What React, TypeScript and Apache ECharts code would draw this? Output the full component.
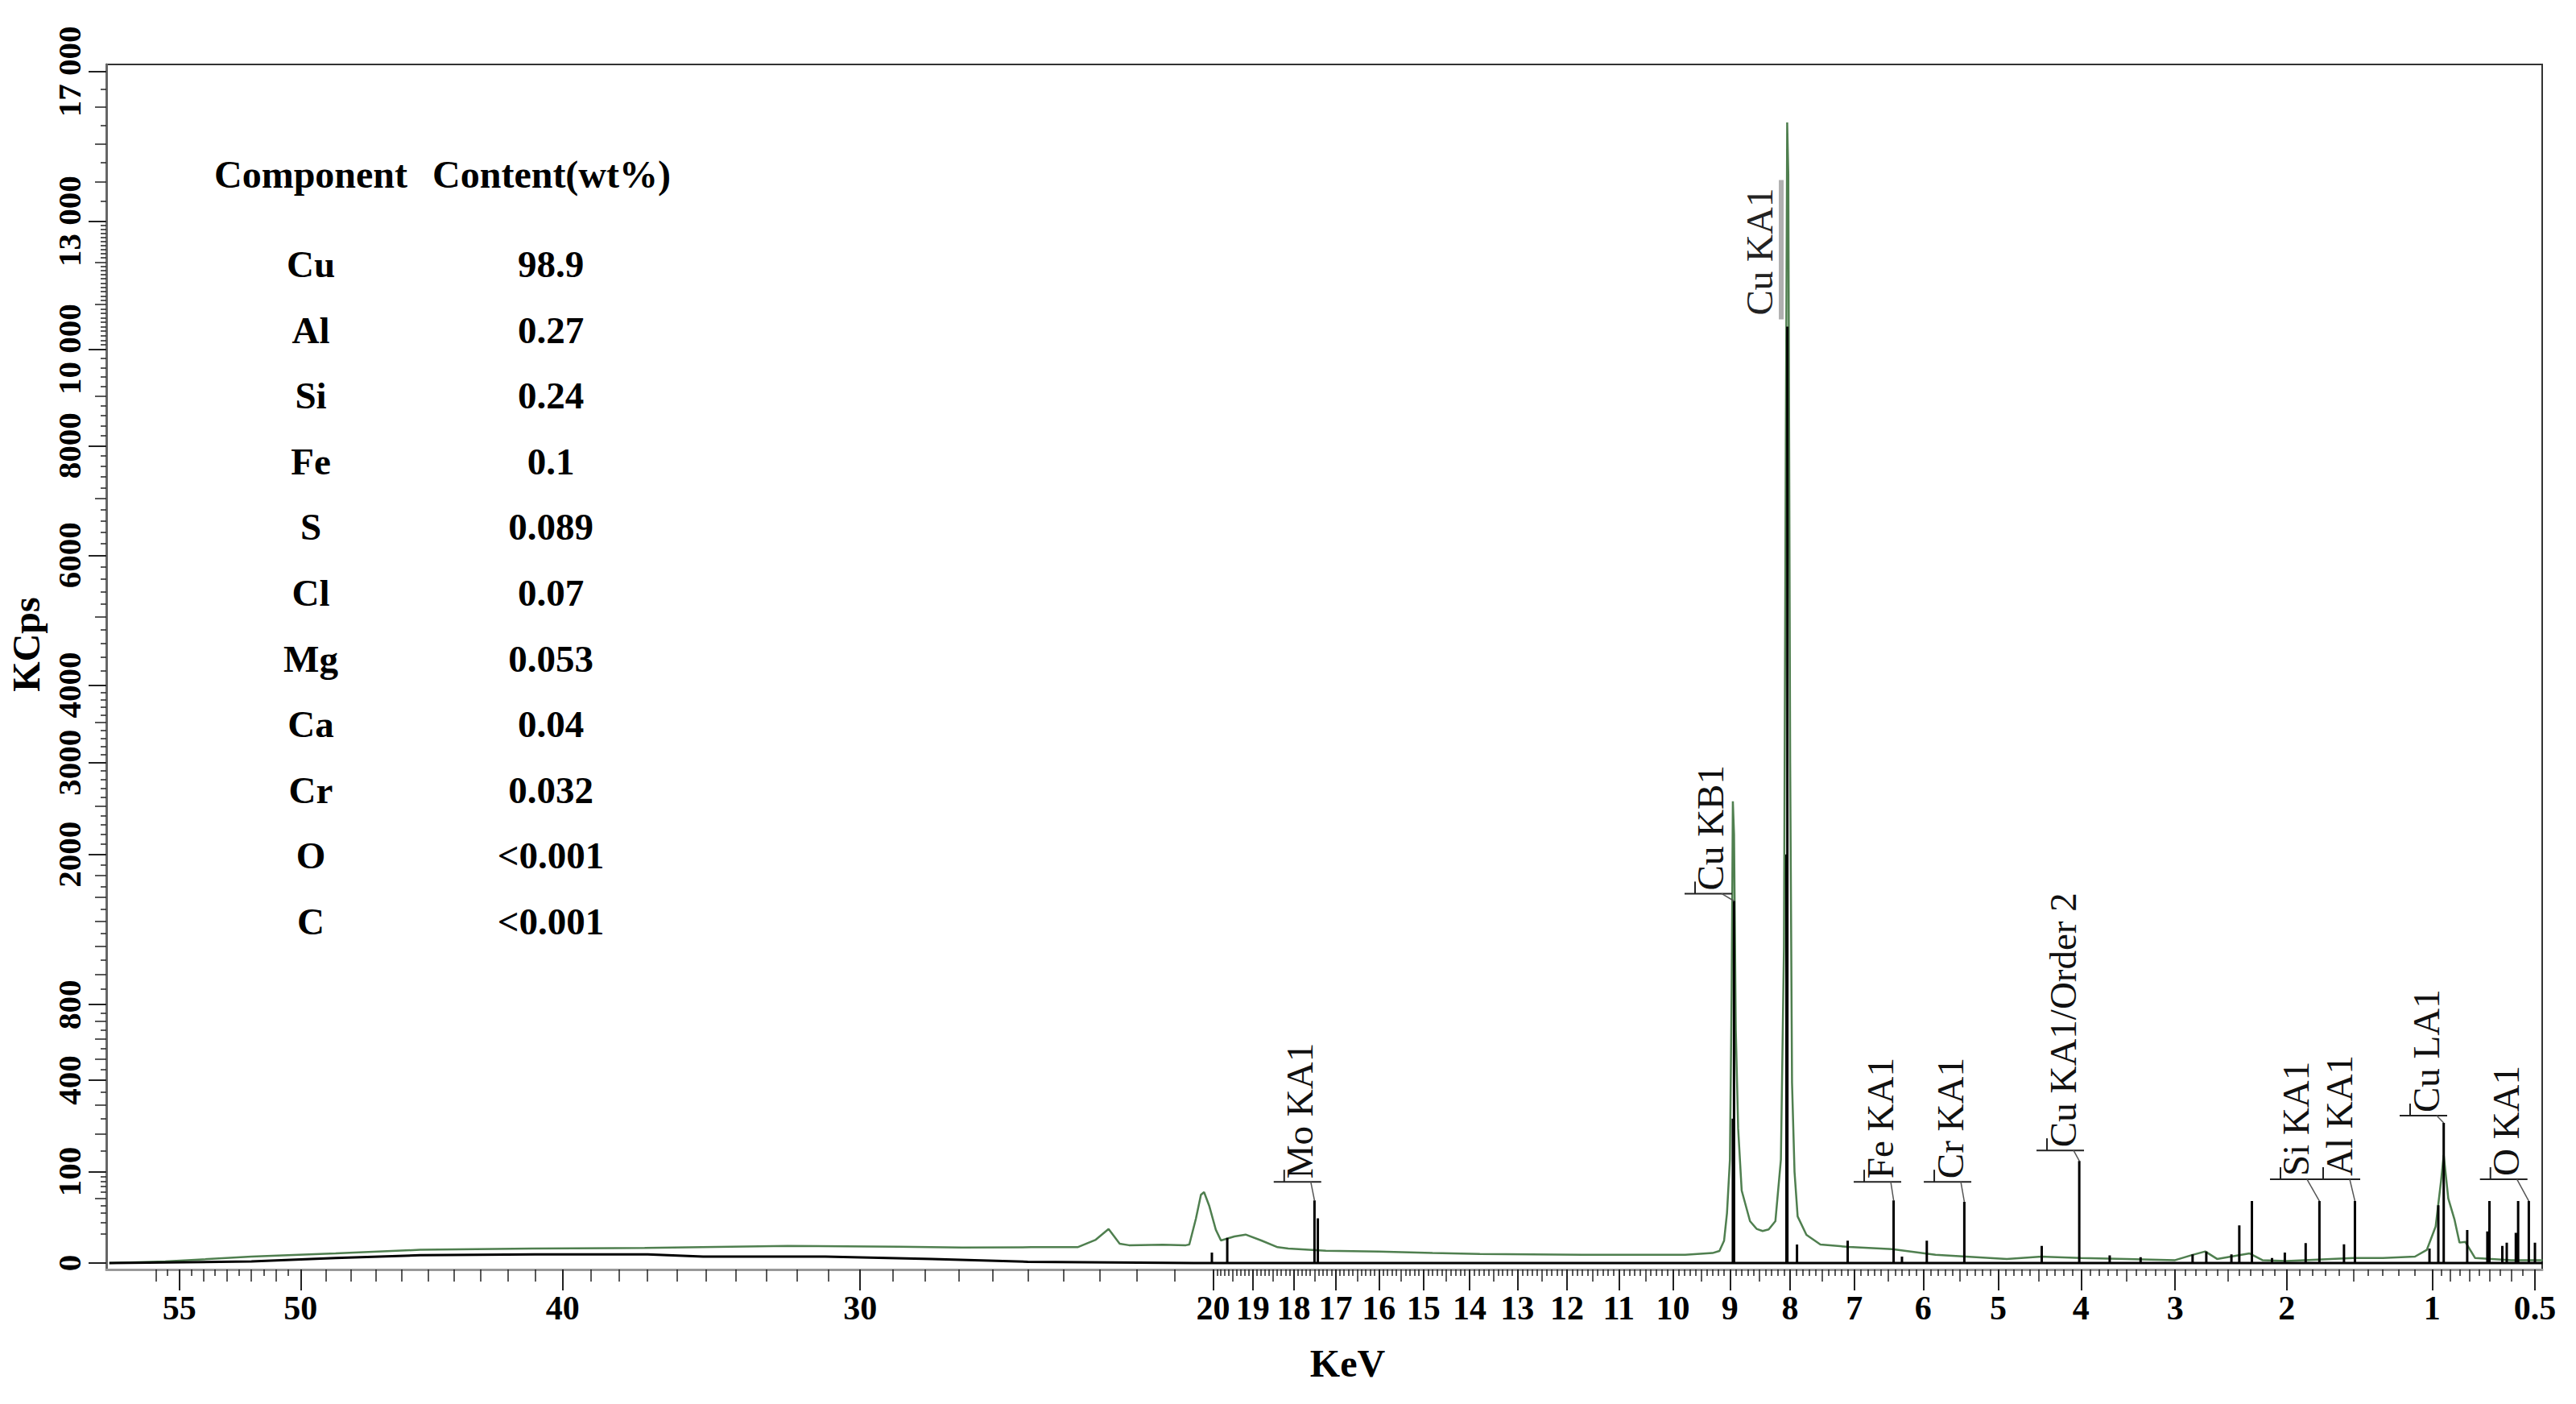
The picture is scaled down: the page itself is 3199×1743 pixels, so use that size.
import React, { useEffect, useRef } from 'react';
import * as echarts from 'echarts';

// ---------- table ----------
const components = ['Cu', 'Al', 'Si', 'Fe', 'S', 'Cl', 'Mg', 'Ca', 'Cr', 'O', 'C'];
const contents = ['98.9', '0.27', '0.24', '0.1', '0.089', '0.07', '0.053', '0.04', '0.032', '<0.001', '<0.001'];

// ---------- green spectrum (keV, KCps) ----------
const greenE = [58.0, 55.6, 52.0, 48.6, 45.3, 41.1, 37.1, 32.3, 28.8, 26.9, 24.9, 23.6, 23.1, 22.75, 22.45, 22.2, 21.3, 20.7, 20.61, 20.44, 20.31, 20.23, 20.1, 19.93, 19.8, 19.46, 19.18, 18.79, 18.39, 18.13, 17.23, 16.0, 14.8, 13.78, 11.7, 9.78, 9.3, 9.18, 9.1, 9.05, 9.0, 8.97, 8.95, 8.93, 8.9, 8.86, 8.8, 8.66, 8.55, 8.45, 8.35, 8.24, 8.15, 8.1, 8.07, 8.048, 8.03, 8.0, 7.97, 7.93, 7.88, 7.74, 7.52, 7.08, 6.44, 5.83, 4.89, 4.46, 4.0, 3.5, 3.0, 2.83, 2.71, 2.6, 2.31, 2.2, 2.0, 1.5, 1.3, 1.1, 1.03, 0.98, 0.95, 0.935, 0.91, 0.877, 0.85, 0.82, 0.77, 0.6, 0.47];
const greenC = [0, 0.03, 0.5, 1.1, 2.1, 2.5, 2.7, 3.5, 3.2, 2.9, 3.0, 3.0, 6.5, 13.9, 4.5, 3.8, 4.0, 3.8, 4.1, 23.5, 55.8, 60.2, 39.5, 13.3, 6.1, 8.5, 9.7, 6.1, 3.0, 2.5, 1.8, 1.6, 1.2, 1.0, 0.8, 0.8, 1.2, 1.75, 6, 30, 128, 900, 2553, 2200, 650, 217, 63, 21, 14, 12.3, 13.5, 21, 128, 1200, 8000, 15578, 14200, 3000, 390, 100, 26, 9.5, 4.1, 3.1, 2.3, 0.8, 0.2, 0.5, 0.3, 0.2, 0.1, 0.8, 1.6, 0.2, 1.1, 0.1, 0.05, 0.3, 0.3, 0.5, 2.1, 16, 80, 140, 50, 23, 5, 5.4, 0.3, 0.1, 0.1];

// ---------- black spectrum: baseline + line spikes ----------
const blackBaseE = [58, 52, 48.6, 45.3, 41, 37, 35.1, 31.1, 27.8, 25, 20.5, 0.47];
const blackBaseC = [0, 0.03, 0.3, 0.73, 0.9, 0.9, 0.5, 0.5, 0.2, 0.02, 0, 0];
const spikeE = [20.03, 19.64, 17.5, 17.42, 8.95, 8.93, 8.06, 8.045, 7.89, 7.1, 6.42, 6.3, 5.95, 5.44, 4.46, 4.02, 3.68, 3.35, 2.83, 2.7, 2.47, 2.4, 2.29, 2.12, 2.015, 1.85, 1.745, 1.565, 1.488, 1.015, 0.965, 0.935, 0.81, 0.71, 0.7, 0.64, 0.62, 0.58, 0.57, 0.525, 0.5];
const spikeC = [1.3, 7.6, 47, 24, 250, 1570, 2000, 10500, 4.1, 6, 47, 0.5, 6, 45, 3.5, 125, 0.7, 0.4, 0.9, 1.6, 0.9, 17, 46, 0.3, 1.3, 4.8, 46, 4.2, 46, 2.5, 40, 235, 13, 12, 46, 3.5, 5, 11, 46, 46, 5];

// ---------- peak labels ----------
const peakNames = ['Mo KA1', 'Cu KB1', 'Cu KA1', 'Fe KA1', 'Cr KA1', 'Cu KA1/Order 2', 'Si KA1', 'Al KA1', 'Cu LA1', 'O KA1'];
const peakTextE = [17.55, 9.115, 8.302, 6.438, 5.465, 4.067, 1.827, 1.513, 0.965, 0.568];
const peakBaseC = [79, 1634, 10755, 79, 79, 152, 84, 84, 260, 84];
const peakE = [17.5, 8.93, 8.04, 6.42, 5.44, 4.02, 1.745, 1.488, 0.935, 0.525];
const peakTopC = [47, 1570, 10500, 47, 45, 125, 46, 46, 235, 46];
const peakKinds = ['bracket', 'bracket', 'side', 'bracket', 'bracket', 'bracket', 'bracket', 'bracket', 'bracket', 'bracket'];

// ---------- axis ticks ----------
const xLabelValues = [55, 50, 40, 30, 20, 19, 18, 17, 16, 15, 14, 13, 12, 11, 10, 9, 8, 7, 6, 5, 4, 3, 2, 1, 0.5];
const yLabelValues = [0, 100, 400, 800, 2000, 3000, 4000, 6000, 8000, 10000, 13000, 17000];
const yMediumValues = [50, 200, 300, 500, 600, 700, 1000, 1200, 1400, 1600, 1800, 2500, 3500, 5000, 7000, 9000, 11000, 12000, 14000, 15000, 16000];

const range = (a: number, b: number, step: number) => {
  const out: number[] = [];
  for (let v = a; v <= b + 1e-9; v += step) out.push(Math.round(v * 1000) / 1000);
  return out;
};
const notIn = (arr: number[], excl: number[]) => arr.filter((v) => !excl.some((e) => Math.abs(e - v) < 1e-6));

const xMediumValues = [56, 54, 53, 52, 51, ...range(21, 49, 1).filter((v) => v !== 30 && v !== 40), ...range(1.5, 19.5, 1), 0.9, 0.8, 0.7, 0.6];
const xShortValues = notIn(
  [...range(50.5, 55.5, 1), ...range(1.1, 19.9, 0.1), 0.95, 0.85, 0.75, 0.65, 0.55],
  [...xLabelValues, ...xMediumValues]
);
const yShortValues = notIn(
  [...range(10, 90, 10), ...range(150, 750, 100), ...range(900, 1900, 200), ...range(2100, 3900, 100), ...range(4200, 9800, 200), ...range(10100, 12900, 100), ...range(13500, 16500, 1000)],
  [...yLabelValues, ...yMediumValues]
);

const sq = Math.sqrt;
const X_MIN = 0.6865;
const X_MAX = 7.6245;
const Y_MIN = -0.705;
const Y_MAX = 131.17;
const SERIF = 'Liberation Serif';

function fmtY(v: number) {
  const c = Math.round(v * v);
  if (c >= 10000) return `${Math.floor(c / 1000)} ${String(c % 1000).padStart(3, '0')}`;
  return String(c);
}
function fmtX(v: number) {
  return String(Math.round(v * v * 100) / 100);
}

export default function App() {
  const ref = useRef<HTMLDivElement>(null);

  useEffect(() => {
    document.body.style.margin = '0';
    document.body.style.overflow = 'hidden';
    if (!ref.current) return;
    const chart = echarts.init(ref.current, undefined, { renderer: 'svg' });

    const greenData = greenE.map((e, i) => [sq(e), sq(greenC[i])]);

    const pts: { e: number; c: number; spike: boolean }[] = [];
    blackBaseE.forEach((e, i) => pts.push({ e, c: blackBaseC[i], spike: false }));
    spikeE.forEach((e, i) => pts.push({ e, c: spikeC[i], spike: true }));
    pts.sort((a, b) => b.e - a.e);
    const blackData: number[][] = [];
    pts.forEach((p) => {
      if (p.spike) {
        blackData.push([sq(p.e), 0], [sq(p.e), sq(p.c)], [sq(p.e), 0]);
      } else {
        blackData.push([sq(p.e), sq(p.c)]);
      }
    });

    const labelData = peakNames.map((_, i) => [sq(peakTextE[i]), sq(peakBaseC[i]), sq(peakE[i]), sq(peakTopC[i])]);

    const xBase = {
      type: 'value',
      gridIndex: 0,
      position: 'bottom',
      min: X_MIN,
      max: X_MAX,
      inverse: true,
      splitLine: { show: false },
    };
    const yBase = {
      type: 'value',
      gridIndex: 0,
      position: 'left',
      min: Y_MIN,
      max: Y_MAX,
      splitLine: { show: false },
    };

    const option: any = {
      animation: false,
      backgroundColor: '#ffffff',
      textStyle: { fontFamily: SERIF },
      grid: {
        left: 132,
        right: 42,
        top: 80,
        bottom: 167,
        show: true,
        borderColor: '#333',
        borderWidth: 2,
      },
      xAxis: [
        {
          ...xBase,
          name: 'KeV',
          nameLocation: 'middle',
          nameGap: 92,
          nameTextStyle: { fontFamily: SERIF, fontWeight: 'bold', fontSize: 48, color: '#000', padding: [0, 0, 0, 58] },
          axisLine: { show: true, onZero: false, lineStyle: { color: '#999', width: 3 } },
          axisTick: { show: true, length: 26, customValues: xLabelValues.map(sq), lineStyle: { color: '#222', width: 2 } },
          axisLabel: {
            show: true,
            customValues: xLabelValues.map(sq),
            formatter: fmtX,
            margin: 27,
            fontFamily: SERIF,
            fontWeight: 'bold',
            fontSize: 42,
            color: '#000',
          },
        },
        {
          ...xBase,
          axisLine: { show: false, onZero: false },
          axisTick: { show: true, length: 15, customValues: xMediumValues.map(sq), lineStyle: { color: '#222', width: 1.5 } },
          axisLabel: { show: false },
        },
        {
          ...xBase,
          axisLine: { show: false, onZero: false },
          axisTick: { show: true, length: 8, customValues: xShortValues.map(sq), lineStyle: { color: '#222', width: 1.5 } },
          axisLabel: { show: false },
        },
      ],
      yAxis: [
        {
          ...yBase,
          name: 'KCps',
          nameLocation: 'middle',
          nameGap: 76,
          nameRotate: 90,
          nameTextStyle: { fontFamily: SERIF, fontWeight: 'bold', fontSize: 48, color: '#000', padding: [0, 0, 0, 56] },
          axisLine: { show: true, onZero: false, lineStyle: { color: '#666', width: 3 } },
          axisTick: { show: true, length: 22, customValues: yLabelValues.map(sq), lineStyle: { color: '#222', width: 2 } },
          axisLabel: {
            show: true,
            customValues: yLabelValues.map(sq),
            formatter: fmtY,
            rotate: 90,
            margin: 26,
            fontFamily: SERIF,
            fontWeight: 'bold',
            fontSize: 41,
            color: '#000',
          },
        },
        {
          ...yBase,
          axisLine: { show: false, onZero: false },
          axisTick: { show: true, length: 14, customValues: yMediumValues.map(sq), lineStyle: { color: '#222', width: 1.5 } },
          axisLabel: { show: false },
        },
        {
          ...yBase,
          axisLine: { show: false, onZero: false },
          axisTick: { show: true, length: 7, customValues: yShortValues.map(sq), lineStyle: { color: '#222', width: 1.5 } },
          axisLabel: { show: false },
        },
      ],
      series: [
        {
          type: 'line',
          name: 'green',
          xAxisIndex: 0,
          yAxisIndex: 0,
          data: greenData,
          showSymbol: false,
          symbol: 'none',
          lineStyle: { color: '#4f7f4f', width: 2.5 },
          z: 2,
        },
        {
          type: 'line',
          name: 'black',
          xAxisIndex: 0,
          yAxisIndex: 0,
          data: blackData,
          showSymbol: false,
          symbol: 'none',
          lineStyle: { color: '#000', width: 3 },
          z: 3,
        },
        {
          type: 'custom',
          name: 'labels',
          xAxisIndex: 0,
          yAxisIndex: 0,
          coordinateSystem: 'cartesian2d',
          data: labelData,
          clip: false,
          silent: true,
          z: 4,
          renderItem: (params: any, api: any) => {
            const i = params.dataIndex;
            const a = api.coord([api.value(0), api.value(1)]);
            const p = api.coord([api.value(2), api.value(3)]);
            const children: any[] = [];
            if (peakKinds[i] === 'side') {
              children.push({
                type: 'line',
                shape: { x1: a[0] + 12, y1: a[1] + 5, x2: a[0] + 12, y2: a[1] - 168 },
                style: { stroke: '#b0b0b0', lineWidth: 6 },
              });
              children.push({
                type: 'text',
                x: a[0] + 8,
                y: a[1],
                rotation: Math.PI / 2,
                style: { text: peakNames[i], fontFamily: SERIF, fontSize: 47, fill: '#222', align: 'left', verticalAlign: 'bottom' },
              });
            } else {
              children.push({
                type: 'line',
                shape: { x1: a[0] - 48, y1: a[1], x2: a[0] + 11, y2: a[1] },
                style: { stroke: '#222', lineWidth: 2 },
              });
              children.push({
                type: 'line',
                shape: { x1: a[0] - 35, y1: a[1] - 15, x2: a[0] - 35, y2: a[1] },
                style: { stroke: '#222', lineWidth: 2 },
              });
              children.push({
                type: 'line',
                shape: { x1: a[0] - 2, y1: a[1], x2: p[0], y2: p[1] },
                style: { stroke: '#555', lineWidth: 1.5 },
              });
              children.push({
                type: 'text',
                x: a[0] + 8,
                y: a[1] - 4,
                rotation: Math.PI / 2,
                style: { text: peakNames[i], fontFamily: SERIF, fontSize: 47, fill: '#111', align: 'left', verticalAlign: 'bottom' },
              });
            }
            return { type: 'group', children };
          },
        },
      ],
      graphic: [
        {
          type: 'group',
          children: [
            {
              type: 'text',
              x: 386,
              y: 216,
              style: { text: 'Component', fontFamily: SERIF, fontWeight: 'bold', fontSize: 48, fill: '#000', align: 'center', verticalAlign: 'middle' },
            },
            {
              type: 'text',
              x: 685,
              y: 216,
              style: { text: 'Content(wt%)', fontFamily: SERIF, fontWeight: 'bold', fontSize: 48, fill: '#000', align: 'center', verticalAlign: 'middle' },
            },
            ...components.map((c, i) => ({
              type: 'text',
              x: 386,
              y: 328 + i * 81.6,
              style: { text: c, fontFamily: SERIF, fontWeight: 'bold', fontSize: 47, fill: '#000', align: 'center', verticalAlign: 'middle' },
            })),
            ...contents.map((c, i) => ({
              type: 'text',
              x: 684,
              y: 328 + i * 81.6,
              style: { text: c, fontFamily: SERIF, fontWeight: 'bold', fontSize: 47, fill: '#000', align: 'center', verticalAlign: 'middle' },
            })),
          ],
        },
      ],
    };

    chart.setOption(option);
    return () => {
      chart.dispose();
    };
  }, []);

  return <div ref={ref} style={{ width: 3199, height: 1743 }} />;
}
